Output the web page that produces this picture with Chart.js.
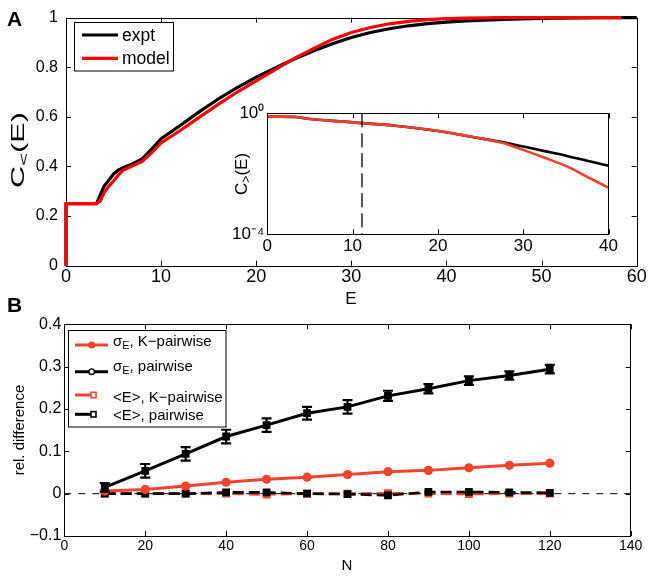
<!DOCTYPE html>
<html><head><meta charset="utf-8">
<script src="https://cdn.jsdelivr.net/npm/chart.js@4.4.1/dist/chart.umd.min.js"></script>
<style>
html,body{margin:0;padding:0;background:#fff;}
#wrap{position:relative;width:652px;height:576px;overflow:hidden;font-family:"Liberation Sans",Arial,Helvetica,sans-serif;color:#000;}
canvas{position:absolute;}
.t{position:absolute;white-space:nowrap;line-height:1;}
.rot{transform:translate(-50%,-50%) rotate(-90deg);}
.rotw{transform:translate(-50%,-50%) rotate(-90deg) scaleX(1.7);}
.ctr{transform:translateX(-50%);}
sub{font-size:72%;vertical-align:-0.32em;line-height:0;}
svg{position:absolute;left:0;top:0;}
</style></head><body>
<div id="wrap">
<canvas id="cA" width="652" height="300" style="left:0;top:0;width:652px;height:300px"></canvas>
<canvas id="cI" width="400" height="160" style="left:220px;top:100px;width:400px;height:160px"></canvas>
<canvas id="cB" width="652" height="286" style="left:0;top:290px;width:652px;height:286px"></canvas>
<svg width="652" height="576" viewBox="0 0 652 576">
  <rect x="74.5" y="22.5" width="99" height="48.5" fill="#fff" stroke="#000" stroke-width="1"/>
  <line x1="82" y1="35" x2="118" y2="35" stroke="#000" stroke-width="3.2"/>
  <line x1="82" y1="58.3" x2="118" y2="58.3" stroke="#ff0000" stroke-width="3.2"/>
  <rect x="68.5" y="330.5" width="157.5" height="96.5" fill="#fff" stroke="#000" stroke-width="1"/>
  <line x1="75" y1="345" x2="108" y2="345" stroke="#f2432f" stroke-width="3"/>
  <circle cx="91.7" cy="345" r="3.6" fill="#f2432f"/>
  <line x1="75" y1="371.7" x2="108" y2="371.7" stroke="#000" stroke-width="3"/>
  <circle cx="91.7" cy="371.7" r="2.8" fill="#fff" stroke="#000" stroke-width="1.4"/>
  <line x1="75" y1="395" x2="91" y2="395" stroke="#f2432f" stroke-width="3"/>
  <rect x="91" y="392.3" width="5" height="5.4" fill="#fff" stroke="#f2432f" stroke-width="1.6"/>
  <line x1="75" y1="414.3" x2="91" y2="414.3" stroke="#000" stroke-width="3"/>
  <rect x="91" y="411.6" width="5" height="5.4" fill="#fff" stroke="#000" stroke-width="1.6"/>
</svg>
<div class="t" style="left:7px;top:7.5px;font-size:21px;font-weight:bold;">A</div>
<div class="t" style="left:7px;top:293.5px;font-size:21px;font-weight:bold;">B</div>
<div class="t" style="left:122px;top:26.7px;font-size:17.5px;">expt</div>
<div class="t" style="left:122px;top:50.2px;font-size:17.5px;">model</div>
<div class="t" style="left:113px;top:333.3px;font-size:15px;">σ<sub>E</sub>, K−pairwise</div>
<div class="t" style="left:113px;top:358px;font-size:15px;">σ<sub>E</sub>, pairwise</div>
<div class="t" style="left:113px;top:389px;font-size:15px;">&lt;E&gt;, K−pairwise</div>
<div class="t" style="left:113px;top:407.3px;font-size:15px;">&lt;E&gt;, pairwise</div>
<div class="t ctr" style="left:351px;top:289.6px;font-size:17px;">E</div>
<div class="t ctr" style="left:347px;top:557.3px;font-size:15px;">N</div>
<div class="t rotw" style="left:18px;top:150px;font-size:18px;">C<sub>&lt;</sub>(E)</div>
<div class="t rot" style="left:241px;top:174px;font-size:17px;">C<sub>&gt;</sub>(E)</div>
<div class="t rot" style="left:18px;top:430px;font-size:15px;">rel. difference</div>
</div>
<script>
// ---------- Panel A : cumulative distribution C<(E) ----------
const E_expt  = [0,0,3.2,3.5,4,4.5,5,5.5,6,7,8,9,10,12,14,16,18,20,22,24,26,28,30,32,34,36,38,40,42,44,46,48,50,52,54,56,58,60];
const C_expt  = [0,0.25,0.25,0.275,0.32,0.345,0.37,0.385,0.395,0.41,0.43,0.47,0.512,0.565,0.62,0.672,0.718,0.76,0.797,0.833,0.865,0.895,0.92,0.94,0.955,0.967,0.976,0.982,0.987,0.99,0.993,0.995,0.997,0.998,0.999,1,1,1];
const E_model = [0,0,3.2,3.6,4,4.5,5,5.5,6,7,8,9,10,12,14,16,18,20,22,24,26,28,30,32,34,36,38,40,42,44,46,58.4];
const C_model = [0,0.25,0.25,0.26,0.295,0.32,0.342,0.365,0.385,0.403,0.42,0.455,0.495,0.545,0.598,0.65,0.7,0.745,0.79,0.836,0.875,0.912,0.94,0.96,0.975,0.985,0.992,0.996,0.998,0.999,1,1];
const xTicksA = [0,10,20,30,40,50,60];
const yTicksA = [0,0.2,0.4,0.6,0.8,1];

// ---------- Inset : C>(E), log scale ----------
const E_in     = [0,3.2,5,10,15,20,25,27.5,30,32.5,35,37.5,40];
const Cgt_expt = [0.776,0.759,0.646,0.501,0.389,0.26,0.148,0.112,0.0794,0.0562,0.0398,0.0269,0.0186];
const Cgt_model= [0.776,0.759,0.646,0.501,0.389,0.263,0.148,0.107,0.0617,0.0339,0.0182,0.00794,0.00347];
const xTicksIn = [0,10,20,30,40];
const yTicksIn = [1e-4,1];
const E_dash   = 11.1;

// ---------- Panel B : relative differences vs N ----------
const N_vals      = [10,20,30,40,50,60,70,80,90,100,110,120];
const sigmaK      = [0.006,0.01,0.018,0.027,0.034,0.039,0.045,0.052,0.055,0.061,0.067,0.072];
const sigmaP      = [0.015,0.054,0.094,0.135,0.162,0.19,0.205,0.231,0.248,0.267,0.279,0.294];
const sigmaPerr   = [0.01,0.016,0.016,0.016,0.016,0.015,0.016,0.012,0.011,0.01,0.01,0.01];
const meanK       = [0,0,0,0,-0.002,0,0,0.001,0,-0.001,0,0];
const meanP       = [0,0,0,0.003,0.003,0,-0.001,-0.004,0.004,0.004,0.003,0.002];
const xTicksB = [0,20,40,60,80,100,120,140];
const yTicksB = [-0.1,0,0.1,0.2,0.3,0.4];

const FONT = "'Liberation Sans', Arial, Helvetica, sans-serif";
Chart.defaults.font.family = FONT;
Chart.defaults.color = '#000';

const xy = (xs, ys) => xs.map((x,i)=>({x:x, y:ys[i]}));
const fmt = v => String(Math.round(v*1000)/1000).replace('-', '\u2212');
const supMap = {'0':'\u2070','1':'\u00b9','2':'\u00b2','3':'\u00b3','4':'\u2074','5':'\u2075','6':'\u2076','7':'\u2077','8':'\u2078','9':'\u2079','-':'\u207b'};
const logFmt = v => '10' + String(Math.round(Math.log10(v))).split('').map(c=>supMap[c]).join('');

function drawFrame(chart){
  const {ctx, chartArea:a, scales} = chart;
  const L = 5;
  ctx.save();
  ctx.strokeStyle='#000'; ctx.lineWidth=1; ctx.setLineDash([]);
  ctx.beginPath();
  scales.x.ticks.forEach(t=>{
    const px = Math.round(scales.x.getPixelForValue(t.value))+0.5;
    ctx.moveTo(px,a.bottom); ctx.lineTo(px,a.bottom-L);
    ctx.moveTo(px,a.top); ctx.lineTo(px,a.top+L);
  });
  scales.y.ticks.forEach(t=>{
    const py = Math.round(scales.y.getPixelForValue(t.value))+0.5;
    ctx.moveTo(a.left,py); ctx.lineTo(a.left+L,py);
    ctx.moveTo(a.right,py); ctx.lineTo(a.right-L,py);
  });
  ctx.stroke();
  ctx.strokeRect(Math.round(a.left)+0.5, Math.round(a.top)+0.5, Math.round(a.right-a.left), Math.round(a.bottom-a.top));
  ctx.restore();
}

const framePlugin = {
  id:'frame',
  beforeDatasetsDraw(chart, args, opts){
    const {ctx, chartArea:a, scales} = chart;
    ctx.save();
    if (opts.fill){ ctx.fillStyle='#fff'; ctx.fillRect(a.left,a.top,a.right-a.left,a.bottom-a.top); }
    if (opts.zeroLine){
      const py = scales.y.getPixelForValue(0);
      ctx.strokeStyle='#000'; ctx.lineWidth=1; ctx.setLineDash([7,7]);
      ctx.beginPath(); ctx.moveTo(a.left, py); ctx.lineTo(a.right, py); ctx.stroke();
    }
    ctx.restore();
    if (opts.first) drawFrame(chart);
  },
  afterDatasetsDraw(chart, args, opts){
    const {ctx, chartArea:a, scales} = chart;
    ctx.save();
    if (opts.vline !== undefined){
      const px = scales.x.getPixelForValue(opts.vline);
      ctx.strokeStyle='#000'; ctx.lineWidth=1.3; ctx.setLineDash([14,6]);
      ctx.beginPath(); ctx.moveTo(px, a.top); ctx.lineTo(px, a.bottom); ctx.stroke();
      ctx.setLineDash([]);
    }
    if (opts.errors){
      const e = opts.errors;
      ctx.strokeStyle='#000'; ctx.lineWidth=2.2;
      ctx.beginPath();
      e.x.forEach((xv,i)=>{
        const px = scales.x.getPixelForValue(xv);
        const y1 = scales.y.getPixelForValue(e.y[i]-e.err[i]);
        const y2 = scales.y.getPixelForValue(e.y[i]+e.err[i]);
        ctx.moveTo(px,y1); ctx.lineTo(px,y2);
        ctx.moveTo(px-5,y1); ctx.lineTo(px+5,y1);
        ctx.moveTo(px-5,y2); ctx.lineTo(px+5,y2);
      });
      ctx.stroke();
    }
    ctx.restore();
    if (!opts.first) drawFrame(chart);
  }
};

function axis(type, min, max, tickVals, fontSize, pad, fitSize, isX, cb){
  return {
    type:type, min:min, max:max,
    afterBuildTicks: s => { s.ticks = tickVals.map(v=>({value:v})); },
    afterFit: s => { if (isX) s.height = fitSize; else s.width = fitSize; },
    grid:{display:false, drawTicks:false}, border:{display:false},
    ticks:{font:{size:fontSize}, padding:pad, maxRotation:0, autoSkip:false, callback: cb || (v=>fmt(v))}
  };
}

const common = {responsive:false, animation:false, events:[], maintainAspectRatio:false};

new Chart(document.getElementById('cA'), {
  type:'line',
  data:{datasets:[
    {label:'model', data:xy(E_model,C_model), borderColor:'#ff0000', borderWidth:3.2, pointRadius:0, tension:0, order:0, clip:false},
    {label:'expt',  data:xy(E_expt,C_expt),  borderColor:'#000000', borderWidth:3.2, pointRadius:0, tension:0, order:1, clip:false}
  ]},
  options:Object.assign({}, common, {
    layout:{padding:{left:0, top:15, right:15.3, bottom:0}},
    plugins:{legend:{display:false}, tooltip:{enabled:false}, frame:{first:true}},
    scales:{
      x: axis('linear',0,60,xTicksA,18,1,34.3,true),
      y: axis('linear',0,1,yTicksA,16,8,66,false)
    }
  }),
  plugins:[framePlugin]
});

new Chart(document.getElementById('cI'), {
  type:'line',
  data:{datasets:[
    {label:'model', data:xy(E_in,Cgt_model), borderColor:'#f0402b', borderWidth:2.6, pointRadius:0, tension:0.3, order:0},
    {label:'expt',  data:xy(E_in,Cgt_expt),  borderColor:'#000000', borderWidth:2.6, pointRadius:0, tension:0.3, order:1}
  ]},
  options:Object.assign({}, common, {
    layout:{padding:{left:0, top:13.3, right:7.3, bottom:0}},
    plugins:{legend:{display:false}, tooltip:{enabled:false}, frame:{fill:true, vline:E_dash}},
    scales:{
      x: axis('linear',0,40,xTicksIn,17,2,25.7,true),
      y: axis('logarithmic',1e-4,1,yTicksIn,17,3,47.3,false,logFmt)
    }
  }),
  plugins:[framePlugin]
});

const redB = '#f2432f';
new Chart(document.getElementById('cB'), {
  type:'line',
  data:{datasets:[
    {label:'sigma pairwise', data:xy(N_vals,sigmaP), borderColor:'#000', backgroundColor:'#000', borderWidth:3, pointStyle:'rect', pointRadius:5.5, pointBorderWidth:0, pointBackgroundColor:'#000', tension:0, order:0},
    {label:'sigma K-pairwise', data:xy(N_vals,sigmaK), borderColor:redB, backgroundColor:redB, borderWidth:3, pointStyle:'circle', pointRadius:4.6, pointBorderWidth:0, pointBackgroundColor:redB, tension:0, order:1},
    {label:'<E> pairwise', data:xy(N_vals,meanP), borderColor:'#000', backgroundColor:'#000', borderWidth:2.6, borderDash:[11,5], pointStyle:'rect', pointRadius:5.5, pointBorderWidth:0, pointBackgroundColor:'#000', tension:0, order:2},
    {label:'<E> K-pairwise', data:xy(N_vals,meanK), borderColor:redB, backgroundColor:redB, borderWidth:2.6, borderDash:[11,5], pointStyle:'rect', pointRadius:5.5, pointBorderWidth:0, pointBackgroundColor:redB, tension:0, order:3}
  ]},
  options:Object.assign({}, common, {
    layout:{padding:{left:0, top:34.3, right:21.3, bottom:0}},
    plugins:{legend:{display:false}, tooltip:{enabled:false}, frame:{zeroLine:true, errors:{x:N_vals, y:sigmaP, err:sigmaPerr}}},
    scales:{
      x: axis('linear',0,140,xTicksB,14,2,40,true),
      y: axis('linear',-0.1,0.4,yTicksB,16,3,64.3,false)
    }
  }),
  plugins:[framePlugin]
});
</script>
</body></html>
